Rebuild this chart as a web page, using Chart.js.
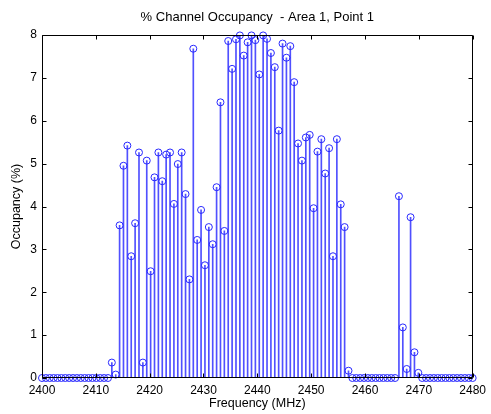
<!DOCTYPE html>
<html>
<head>
<meta charset="utf-8">
<script src="https://cdn.jsdelivr.net/npm/chart.js@4/dist/chart.umd.min.js"></script>
<style>
  html, body { margin: 0; padding: 0; background: #fff; }
  #wrap { width: 491px; height: 414px; position: relative; }
</style>
</head>
<body>
<div id="wrap"><canvas id="c" width="491" height="414"></canvas></div>
<script>
// Sweep: 112 uniformly spaced frequency bins from 2400 to 2480 MHz
const freqStart = 2400;
const freqStop = 2480;
const binCount = 112;

// % occupancy per bin
const occupancy = [
  0, 0, 0, 0, 0, 0, 0, 0, 0, 0, 0, 0, 0, 0, 0, 0, 0, 0,
  0.36, 0.08, 3.56, 4.95, 5.42, 2.84, 3.61, 5.26, 0.36, 5.07,
  2.49, 4.68, 5.26, 4.59, 5.21, 5.26, 4.06, 4.99, 5.26, 4.29,
  2.30, 7.68, 3.22, 3.92, 2.63, 3.52, 3.12, 4.45, 6.43, 3.43,
  7.86, 7.21, 7.90, 7.99, 7.52, 7.83, 7.99, 7.88, 7.08, 7.99,
  7.91, 7.58, 7.25, 5.77, 7.80, 7.47, 7.74, 6.90, 5.47, 5.07,
  5.61, 5.67, 3.96, 5.28, 5.57, 4.77, 5.36, 2.84, 5.57, 4.05,
  3.52, 0.17,
  0, 0, 0, 0, 0, 0, 0, 0, 0, 0, 0, 0,
  4.24, 1.18, 0.21, 3.75, 0.60, 0.12,
  0, 0, 0, 0, 0, 0, 0, 0, 0, 0, 0, 0, 0, 0
];

const xTicks = [2400, 2410, 2420, 2430, 2440, 2450, 2460, 2470, 2480];
const yTicks = [0, 1, 2, 3, 4, 5, 6, 7, 8];

const titleText = '% Channel Occupancy  - Area 1, Point 1';
const xLabel = 'Frequency (MHz)';
const yLabel = 'Occupancy (%)';

const freqs = occupancy.map((_, i) => freqStart + i * (freqStop - freqStart) / (binCount - 1));
const points = occupancy.map((v, i) => ({ x: freqs[i], y: v }));

const FONT = "'Liberation Sans', Arial, Helvetica, sans-serif";
const STEM = 'rgb(80,80,255)';
const MARK = 'rgb(40,40,255)';

const framePlugin = {
  id: 'frame',
  afterDatasetsDraw(chart) {
    const { ctx, chartArea: a, scales: { x, y } } = chart;
    ctx.save();
    ctx.strokeStyle = '#000';
    ctx.lineWidth = 1;
    const L = Math.round(a.left) + 0.5, R = Math.round(a.right) - 0.5;
    const T = Math.round(a.top) + 0.5, B = Math.round(a.bottom) - 0.5;
    ctx.beginPath();
    ctx.rect(L, T, R - L, B - T);
    ctx.stroke();
    const len = 4;
    ctx.beginPath();
    xTicks.forEach(v => {
      const px = Math.round(x.getPixelForValue(v)) + 0.5;
      ctx.moveTo(px, B); ctx.lineTo(px, B - len);
      ctx.moveTo(px, T); ctx.lineTo(px, T + len);
    });
    yTicks.forEach(v => {
      const py = Math.round(y.getPixelForValue(v)) + 0.5;
      ctx.moveTo(L, py); ctx.lineTo(L + len, py);
      ctx.moveTo(R, py); ctx.lineTo(R - len, py);
    });
    ctx.stroke();
    ctx.restore();
  }
};

new Chart(document.getElementById('c'), {
  type: 'scatter',
  data: {
    datasets: [
      {
        type: 'scatter',
        label: 'markers',
        data: points,
        showLine: false,
        pointStyle: 'circle',
        pointRadius: 3.5,
        pointBorderWidth: 1,
        pointBorderColor: MARK,
        pointBackgroundColor: 'rgba(0,0,0,0)',
        clip: false,
        order: 1
      },
      {
        type: 'bar',
        label: 'stems',
        data: points,
        backgroundColor: STEM,
        borderWidth: 0,
        barThickness: 1,
        order: 2
      }
    ]
  },
  plugins: [framePlugin],
  options: {
    responsive: false,
    animation: false,
    devicePixelRatio: 1,
    layout: { padding: { left: 0, right: 13, top: 0, bottom: 0 } },
    plugins: {
      legend: { display: false },
      tooltip: { enabled: false },
      title: {
        display: true,
        text: titleText,
        fullSize: false,
        color: '#000',
        font: { family: FONT, size: 13, weight: 'normal' },
        padding: { top: 10, bottom: 9.4 }
      }
    },
    scales: {
      x: {
        type: 'linear',
        min: 2400,
        max: 2480,
        offset: false,
        afterBuildTicks(scale) { scale.ticks = xTicks.map(v => ({ value: v })); },
        afterFit(scale) { scale.height = 36; },
        grid: { display: false, drawTicks: false, offset: false },
        border: { display: false },
        ticks: {
          color: '#000',
          font: { family: FONT, size: 12 },
          padding: 5,
          maxRotation: 0,
          autoSkip: false,
          callback: v => String(v)
        },
        title: {
          display: true,
          text: xLabel,
          color: '#000',
          font: { family: FONT, size: 12.5 },
          padding: { top: 0, bottom: 2.5 }
        }
      },
      y: {
        type: 'linear',
        min: 0,
        max: 8,
        afterBuildTicks(scale) { scale.ticks = yTicks.map(v => ({ value: v })); },
        afterFit(scale) { scale.width = 42; },
        grid: { display: false, drawTicks: false },
        border: { display: false },
        ticks: {
          color: '#000',
          font: { family: FONT, size: 12 },
          padding: 5,
          autoSkip: false,
          callback: v => String(v)
        },
        title: {
          display: true,
          text: yLabel,
          color: '#000',
          font: { family: FONT, size: 12.5 },
          padding: { top: 9, bottom: 0 }
        }
      }
    }
  }
});
</script>
</body>
</html>
